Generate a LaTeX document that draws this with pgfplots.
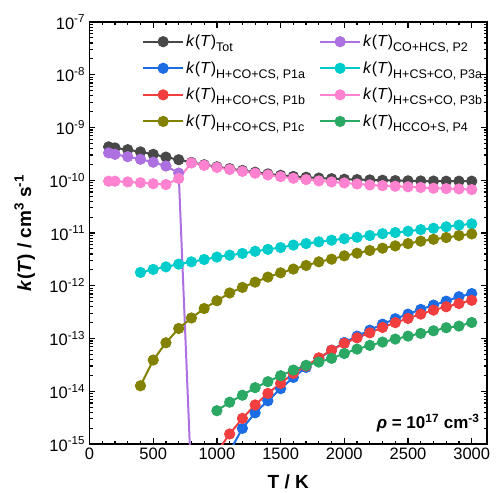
\documentclass[border=0pt]{standalone}
\usepackage{fontspec}
\setmainfont{Liberation Sans}
\usepackage{pgfplots}
\pgfplotsset{compat=1.18}
\definecolor{cTot}{RGB}{72,72,72}
\definecolor{cPa}{RGB}{28,108,228}
\definecolor{cPb}{RGB}{242,62,62}
\definecolor{cPc}{RGB}{130,130,0}
\definecolor{cPtwo}{RGB}{172,112,224}
\definecolor{cPtha}{RGB}{0,204,204}
\definecolor{cPthb}{RGB}{255,130,208}
\definecolor{cPfour}{RGB}{42,168,100}
\newcommand{\lsub}[1]{\raisebox{-5bp}{\fontsize{12.5bp}{13bp}\selectfont #1}}
\newcommand{\kT}{\textit{k}(\textit{T})}
\newcommand{\tl}[1]{10\textsuperscript{#1}}
\begin{document}
\begin{tikzpicture}
\begin{axis}[
  scale only axis, width=397.5bp, height=422bp,
  xmin=0, xmax=3120, ymode=log, ymin=1e-15, ymax=1e-7,
  xtick={0,500,1000,1500,2000,2500,3000}, minor x tick num=4,
  ytick={1e-15,1e-14,1e-13,1e-12,1e-11,1e-10,1e-9,1e-8,1e-7},
  yticklabels={\tl{-15},\tl{-14},\tl{-13},\tl{-12},\tl{-11},\tl{-10},\tl{-9},\tl{-8},\tl{-7}},
  tick align=inside, xtick pos=both, ytick pos=both,
  major tick length=6bp, minor tick length=3.5bp,
  axis line style={line width=1.5bp},
  every tick/.style={line width=1.2bp, black},
  tick label style={font=\fontsize{16.5bp}{19bp}\selectfont},
  yticklabel style={xshift=-1bp},
  /pgf/number format/assume math mode=true,
  /pgf/number format/1000 sep={},
  xlabel={\textbf{T / K}},
  ylabel={\textbf{\textit{k}(\textit{T}) / cm\textsuperscript{3} s\textsuperscript{-1}}},
  label style={font=\fontsize{19bp}{22bp}\selectfont},
  xlabel style={at={(axis description cs:0.5,0)}, anchor=center, yshift=-38bp},
  ylabel style={at={(axis description cs:-0.163,0.5)}, anchor=center},
  every axis plot/.append style={line width=2bp, mark=*, mark size=5.1bp, mark options={line width=1pt}},
  legend columns=2,
  legend image code/.code={\draw[mark repeat=2,mark phase=2] plot coordinates {(0bp,0bp) (20bp,0bp) (40bp,0bp)};},
  legend style={draw=none, fill=none, at={(axis description cs:0.132,0.974)}, anchor=north west,
    inner sep=0pt, row sep=9.5bp, font=\fontsize{16bp}{19bp}\selectfont,
    nodes={inner xsep=2bp},
    /tikz/every even column/.append style={column sep=12bp}},
  legend cell align=left,
]
% Tot
\addplot[color=cTot] coordinates {
(150,4.3e-10)(200,4.1e-10)(300,3.8e-10)(400,3.45e-10)(500,3.1e-10)(600,2.75e-10)(700,2.45e-10)
(800,2.18e-10)(900,1.97e-10)(1000,1.80e-10)(1100,1.66e-10)(1200,1.53e-10)(1300,1.42e-10)(1400,1.32e-10)
(1500,1.24e-10)(1600,1.18e-10)(1700,1.14e-10)(1800,1.10e-10)(1900,1.07e-10)(2000,1.045e-10)(2100,1.03e-10)
(2200,1.015e-10)(2300,1.0e-10)(2400,0.985e-10)(2500,0.975e-10)(2600,0.97e-10)(2700,0.965e-10)(2800,0.96e-10)
(2900,0.96e-10)(3000,0.96e-10)};
\addlegendentry{\kT\lsub{Tot}}
% P2
\addplot[color=cPtwo] coordinates {
(150,3.3e-10)(200,3.1e-10)(300,2.8e-10)(400,2.5e-10)(500,2.2e-10)(600,1.86e-10)(700,1.37e-10)(800,1.7e-16)};
\addlegendentry{\kT\lsub{CO+HCS, P2}}
% P1a
\addplot[color=cPa] coordinates {
(1000,1.5e-16)(1100,7.2e-16)(1200,1.98e-15)(1300,3.9e-15)(1400,6.6e-15)(1500,1.12e-14)(1600,1.83e-14)
(1700,2.83e-14)(1800,4.2e-14)(1900,6.0e-14)(2000,8.4e-14)(2100,1.11e-13)(2200,1.44e-13)(2300,1.87e-13)
(2400,2.37e-13)(2500,2.9e-13)(2600,3.56e-13)(2700,4.3e-13)(2800,5.1e-13)(2900,6.2e-13)(3000,7.1e-13)};
\addlegendentry{\kT\lsub{H+CO+CS, P1a}}
% P3a
\addplot[color=cPtha] coordinates {
(400,1.79e-12)(500,2.04e-12)(600,2.28e-12)(700,2.57e-12)(800,2.84e-12)(900,3.15e-12)(1000,3.5e-12)
(1100,3.8e-12)(1200,4.1e-12)(1300,4.5e-12)(1400,4.9e-12)(1500,5.3e-12)(1600,5.9e-12)(1700,6.3e-12)
(1800,6.8e-12)(1900,7.3e-12)(2000,7.8e-12)(2100,8.3e-12)(2200,8.95e-12)(2300,9.7e-12)(2400,1.02e-11)
(2500,1.08e-11)(2600,1.16e-11)(2700,1.23e-11)(2800,1.31e-11)(2900,1.41e-11)(3000,1.49e-11)};
\addlegendentry{\kT\lsub{H+CS+CO, P3a}}
% P1b
\addplot[color=cPb] coordinates {
(1000,7e-16)(1100,1.55e-15)(1200,3.06e-15)(1300,5.5e-15)(1400,9.1e-15)(1500,1.41e-14)(1600,2.18e-14)
(1700,3.0e-14)(1800,4.3e-14)(1900,6.0e-14)(2000,8.1e-14)(2100,1.03e-13)(2200,1.28e-13)(2300,1.62e-13)
(2400,2.0e-13)(2500,2.4e-13)(2600,2.9e-13)(2700,3.45e-13)(2800,4.0e-13)(2900,4.6e-13)(3000,5.3e-13)};
\addlegendentry{\kT\lsub{H+CO+CS, P1b}}
% P3b
\addplot[color=cPthb] coordinates {
(150,9.6e-11)(200,9.6e-11)(300,9.3e-11)(400,9.0e-11)(500,8.6e-11)(600,8.3e-11)(700,1.08e-10)
(800,2.13e-10)(900,1.92e-10)(1000,1.75e-10)(1100,1.6e-10)(1200,1.47e-10)(1300,1.36e-10)(1400,1.26e-10)
(1500,1.17e-10)(1600,1.09e-10)(1700,1.03e-10)(1800,0.97e-10)(1900,0.93e-10)(2000,0.89e-10)(2100,0.85e-10)
(2200,0.815e-10)(2300,0.79e-10)(2400,0.77e-10)(2500,0.75e-10)(2600,0.73e-10)(2700,0.705e-10)(2800,0.695e-10)
(2900,0.685e-10)(3000,0.665e-10)};
\addlegendentry{\kT\lsub{H+CS+CO, P3b}}
% P1c
\addplot[color=cPc] coordinates {
(400,1.27e-14)(500,3.9e-14)(600,8.3e-14)(700,1.55e-13)(800,2.45e-13)(900,3.7e-13)(1000,5.2e-13)
(1100,7.3e-13)(1200,9.3e-13)(1300,1.17e-12)(1400,1.46e-12)(1500,1.76e-12)(1600,2.07e-12)(1700,2.42e-12)
(1800,2.84e-12)(1900,3.19e-12)(2000,3.69e-12)(2100,4.14e-12)(2200,4.66e-12)(2300,5.15e-12)(2400,5.7e-12)
(2500,6.3e-12)(2600,7.0e-12)(2700,7.6e-12)(2800,8.2e-12)(2900,8.95e-12)(3000,9.6e-12)};
\addlegendentry{\kT\lsub{H+CO+CS, P1c}}
% P4
\addplot[color=cPfour] coordinates {
(1000,4.28e-15)(1100,6.2e-15)(1200,8.4e-15)(1300,1.17e-14)(1400,1.52e-14)(1500,1.97e-14)(1600,2.52e-14)
(1700,3.1e-14)(1800,3.57e-14)(1900,4.2e-14)(2000,5.2e-14)(2100,6.3e-14)(2200,7.4e-14)(2300,8.55e-14)
(2400,9.75e-14)(2500,1.11e-13)(2600,1.25e-13)(2700,1.4e-13)(2800,1.6e-13)(2900,1.72e-13)(3000,2.01e-13)};
\addlegendentry{\kT\lsub{HCCO+S, P4}}
\node[anchor=base east, font=\fontsize{17bp}{19bp}\selectfont\bfseries] at (rel axis cs:0.99,0.036)
  {\textit{ρ} = 10\textsuperscript{17} cm\textsuperscript{-3}};
\end{axis}
\path ([xshift=-89.5bp,yshift=-46bp]current axis.south west) rectangle ([xshift=10bp,yshift=22bp]current axis.north east);
\end{tikzpicture}
\end{document}
